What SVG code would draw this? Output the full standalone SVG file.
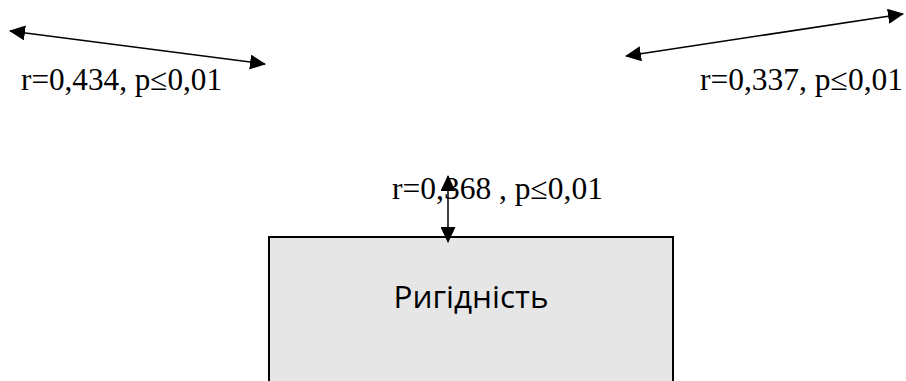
<svg xmlns="http://www.w3.org/2000/svg" width="906" height="381" viewBox="0 0 906 381">
<style>
.lbl{font-family:"Liberation Serif",serif;font-size:31px;fill:#000}
.node{font-family:"Open Sans","Noto Sans",sans-serif;font-size:31px;fill:#000}
.c{stroke:#000;stroke-width:1.5;fill:none}
</style>
<defs>
<marker id="ah" markerWidth="16" markerHeight="15" refX="15" refY="7.5" orient="auto-start-reverse" markerUnits="userSpaceOnUse">
<path d="M0,0 L16,7.5 L0,15 Z" fill="#000"/>
</marker>
</defs>
<g id="node-rigidnist">
<rect x="269" y="237" width="404" height="160" fill="#e6e6e6" stroke="#000" stroke-width="2"/>
<text class="node" x="471" y="308" text-anchor="middle" textLength="155" lengthAdjust="spacingAndGlyphs">Ригідність</text>
</g>
<g id="connectors">
<line class="c" x1="10" y1="31" x2="265" y2="64" marker-start="url(#ah)" marker-end="url(#ah)"/>
<line class="c" x1="626" y1="56" x2="903" y2="14" marker-start="url(#ah)" marker-end="url(#ah)"/>
<line class="c" x1="448" y1="176" x2="448" y2="242" marker-start="url(#ah)" marker-end="url(#ah)"/>
</g>
<g id="labels">
<text class="lbl" x="21" y="90" textLength="201" lengthAdjust="spacingAndGlyphs">r=0,434, p≤0,01</text>
<text class="lbl" x="700" y="90" textLength="203" lengthAdjust="spacingAndGlyphs">r=0,337, p≤0,01</text>
<text class="lbl" x="392" y="199" textLength="211" lengthAdjust="spacingAndGlyphs">r=0,368 , p≤0,01</text>
</g>
</svg>
